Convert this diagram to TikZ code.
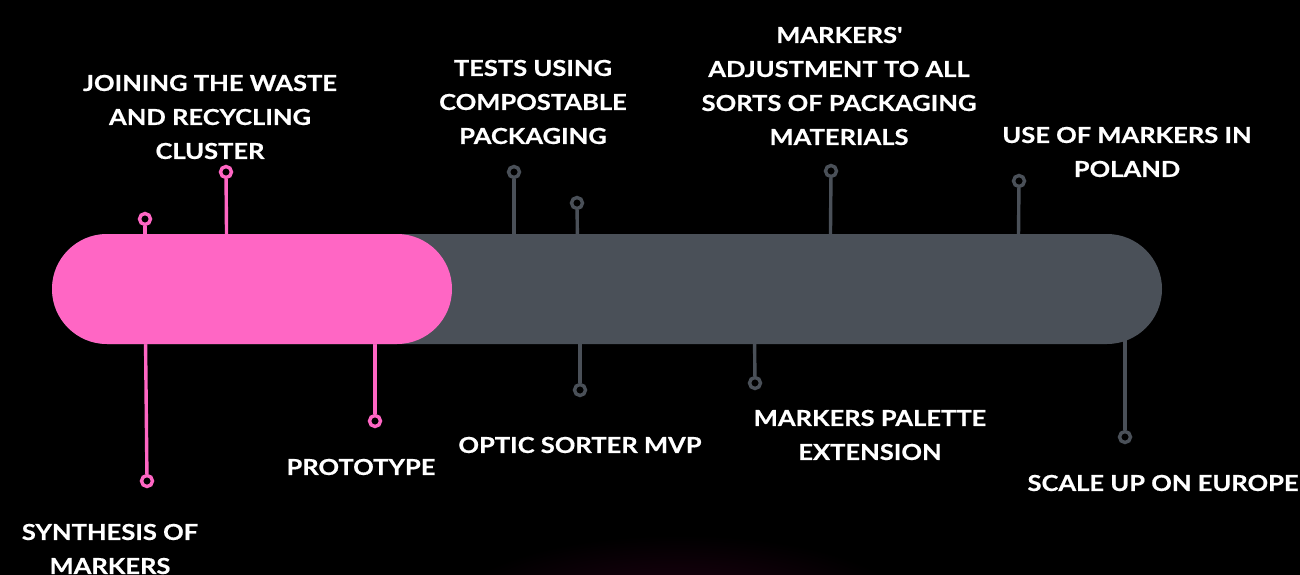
\documentclass[tikz,border=0pt]{standalone}
\usepackage{fontspec}
\setmainfont{Lato}[FakeStretch=1.16, FakeBold=0.6]
\usetikzlibrary{positioning}
\definecolor{barpink}{HTML}{FF66C4}
\definecolor{bargray}{HTML}{4A5058}
\definecolor{glow}{RGB}{34,0,20}

\begin{document}
\begin{tikzpicture}[
    x=1pt, y=-1pt,
    every node/.style={text=white, align=center,
        font=\bfseries\fontsize{22}{34}\selectfont},
    pin/.style={circle, draw, line width=3.4pt, fill=black,
        minimum size=11pt, inner sep=0pt},
    stem/.style={line width=3.4pt}
]
    \useasboundingbox (0,0) rectangle (1300,575);
    \clip (0,0) rectangle (1300,575);
    \fill[black] (0,0) rectangle (1300,575);
    \fill[inner color=glow, outer color=black] (680,610) ellipse (230 and 75);

    % points on the bar
    \coordinate (b1) at (145,289);
    \coordinate (b2) at (227,289);
    \coordinate (b3) at (145,289);
    \coordinate (b4) at (375,289);
    \coordinate (b5) at (514,289);
    \coordinate (b6) at (578,289);
    \coordinate (b7) at (580,289);
    \coordinate (b8) at (754,289);
    \coordinate (b9) at (830,289);
    \coordinate (b10) at (1018,289);
    \coordinate (b11) at (1125,289);

    % pins
    \node[pin, draw=barpink] (synth) at (147,481) {};
    \node[pin, draw=barpink] (member) at (145,219) {};
    \node[pin, draw=barpink] (join) at (226,172) {};
    \node[pin, draw=barpink] (proto) at (375,421) {};
    \node[pin, draw=bargray] (tests) at (514,172) {};
    \node[pin, draw=bargray] (sample) at (577,203) {};
    \node[pin, draw=bargray] (optic) at (580,390) {};
    \node[pin, draw=bargray] (palette) at (755,383) {};
    \node[pin, draw=bargray] (adjust) at (831,171) {};
    \node[pin, draw=bargray] (poland) at (1019,181) {};
    \node[pin, draw=bargray] (europe) at (1125,437) {};

    % stems
    \draw[stem, barpink] (synth) -- (b3);
    \draw[stem, barpink] (member) -- (b1);
    \draw[stem, barpink] (join) -- (b2);
    \draw[stem, barpink] (proto) -- (b4);
    \draw[stem, bargray] (tests) -- (b5);
    \draw[stem, bargray] (sample) -- (b6);
    \draw[stem, bargray] (optic) -- (b7);
    \draw[stem, bargray] (palette) -- (b8);
    \draw[stem, bargray] (adjust) -- (b9);
    \draw[stem, bargray] (poland) -- (b10);
    \draw[stem, bargray] (europe) -- (b11);

    % the bar
    \fill[bargray, rounded corners=55pt] (52,234) rectangle (1162,344);
    \fill[barpink, rounded corners=55pt] (52,234) rectangle (452,344);

    % labels
    \node (joinText) at (210,117) {JOINING THE WASTE\\AND RECYCLING\\CLUSTER};
    \node (synthText) at (110,549) {SYNTHESIS OF\\MARKERS};
    \node (protoText) at (361,467) {PROTOTYPE};
    \node (testsText) at (533,102) {TESTS USING\\COMPOSTABLE\\PACKAGING};
    \node (opticText) at (580,445) {OPTIC SORTER MVP};
    \node (adjustText) at (839,86) {MARKERS\textquotesingle\\ADJUSTMENT TO ALL\\SORTS OF PACKAGING\\MATERIALS};
    \node (paletteText) at (870,435) {MARKERS PALETTE\\EXTENSION};
    \node (polandText) at (1127,152) {USE OF MARKERS IN\\POLAND};
    \node[anchor=west] (europeText) at (1024,483) {SCALE UP ON EUROPE};
\end{tikzpicture}
\end{document}
